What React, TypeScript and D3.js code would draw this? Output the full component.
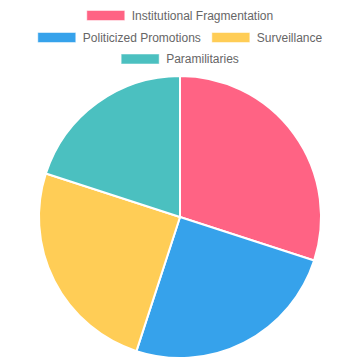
import React from "react";
import * as d3 from "d3";

const labels = ["Institutional Fragmentation", "Politicized Promotions", "Surveillance", "Paramilitaries"];
const values = [30, 25, 25, 20];
const colors = ["#ff6384", "#36a2eb", "#ffcd56", "#4bc0c0"];
const legendRows = [[0], [1, 2], [3]];

const W = 360, H = 360;
const FONT = "12px Arial, 'Liberation Sans', sans-serif";

function measure(t: string): number {
  const c = document.createElement("canvas").getContext("2d")!;
  c.font = FONT;
  return c.measureText(t).width;
}

export default function App() {
  const cx = 180, cy = 217, r = 141;
  const pie = d3.pie<number>().sort(null).value((d) => d);
  const arcs = pie(values);
  const arc = d3.arc<d3.PieArcDatum<number>>().innerRadius(0).outerRadius(r);

  const boxW = 38, boxH = 10, gapBT = 7, gapItem = 11;
  const rowY = [15.5, 37.5, 59];
  const legend: React.ReactNode[] = [];
  legendRows.forEach((row, ri) => {
    const widths = row.map((i) => boxW + gapBT + measure(labels[i]));
    const total = widths.reduce((a, b) => a + b, 0) + gapItem * (row.length - 1);
    let x = (W - total) / 2;
    row.forEach((i, k) => {
      legend.push(
        <g key={i}>
          <rect x={x} y={rowY[ri] - boxH / 2} width={boxW} height={boxH} fill={colors[i]} stroke="#fff" strokeOpacity={0.5} strokeWidth={1} />
          <text x={x + boxW + gapBT} y={rowY[ri]} dy="0.35em" fill="#666" style={{ font: FONT }}>
            {labels[i]}
          </text>
        </g>
      );
      x += widths[k] + gapItem;
    });
  });

  return (
    <svg width={W} height={H} style={{ position: "absolute", left: 0, top: 0, background: "#fff" }}>
      <g transform={`translate(${cx},${cy})`}>
        {arcs.map((a, i) => (
          <path key={i} d={arc(a)!} fill={colors[i]} stroke="#fff" strokeWidth={2} strokeLinejoin="round" />
        ))}
      </g>
      {legend}
    </svg>
  );
}
